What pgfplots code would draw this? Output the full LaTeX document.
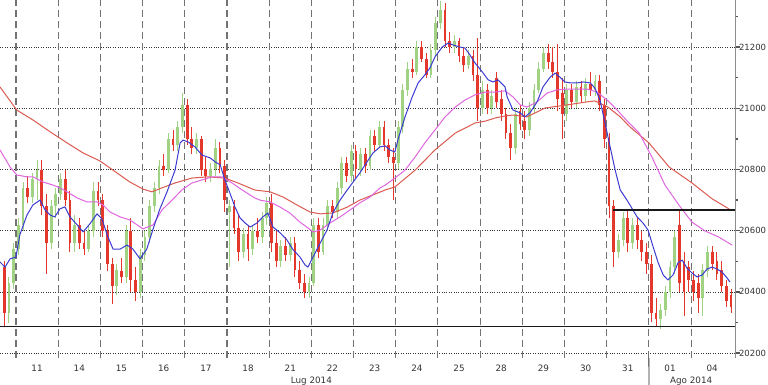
\documentclass[border=0pt]{standalone}
\usepackage{pgfplots}
\usepackage{pgfplotstable}
\pgfplotsset{compat=1.18}
\usepackage{fontspec}
\setmainfont{DejaVu Sans}
\definecolor{cup}{HTML}{9FD283}
\definecolor{cdown}{HTML}{E5382D}
\definecolor{cblue}{HTML}{3B3BD2}
\definecolor{cmag}{HTML}{E066E0}
\definecolor{cred}{HTML}{DA5A50}
\definecolor{cgrid}{HTML}{555555}

\pgfplotstableread{
x o h l c
-0.167 20330 20450 20300 20430
-0.056 20430 20560 20410 20540
0.056 20540 20640 20520 20620
0.167 20620 20760 20600 20740
0.389 20710 20790 20690 20770
0.500 20770 20830 20700 20800
0.833 20560 20700 20540 20680
0.944 20680 20740 20640 20720
1.056 20720 20790 20700 20770
1.389 20560 20650 20530 20620
1.722 20540 20620 20530 20600
1.833 20600 20760 20580 20730
2.389 20420 20490 20390 20470
2.611 20450 20620 20430 20600
2.944 20400 20540 20380 20520
3.056 20520 20600 20500 20580
3.167 20580 20700 20560 20680
3.278 20680 20760 20660 20740
3.389 20740 20830 20720 20810
3.611 20800 20920 20790 20900
3.833 20880 20960 20860 20940
3.944 20940 21050 20920 21010
4.278 20870 20920 20850 20900
4.611 20780 20820 20760 20800
4.722 20800 20900 20780 20870
5.056 20660 20700 20480 20680
5.389 20530 20610 20510 20590
5.611 20540 20620 20520 20600
5.833 20580 20660 20560 20640
5.944 20640 20710 20620 20690
6.278 20500 20570 20480 20550
6.500 20520 20580 20500 20560
6.944 20400 20450 20380 20430
7.056 20430 20640 20420 20620
7.278 20530 20640 20520 20620
7.389 20620 20700 20600 20680
7.611 20660 20760 20640 20740
7.722 20740 20840 20720 20820
7.944 20780 20880 20760 20860
8.167 20800 20870 20780 20850
8.389 20810 20930 20800 20910
8.611 20880 20960 20870 20940
9.056 20820 20960 20800 20940
9.167 20940 21080 20920 21060
9.278 21060 21150 21040 21130
9.500 21120 21220 21110 21200
9.833 21110 21210 21100 21190
9.944 21190 21300 21170 21280
10.056 21280 21350 21260 21320
10.389 21200 21240 21180 21220
10.722 21140 21190 21130 21170
11.056 21000 21090 20980 21060
11.278 21000 21060 20980 21040
11.833 20870 21000 20850 20980
12.167 20930 21020 20910 21000
12.278 21000 21080 20980 21060
12.389 21060 21150 21050 21130
12.500 21130 21200 21120 21180
13.056 20980 21080 20960 21060
13.278 21020 21090 21000 21070
13.500 21040 21100 21020 21080
13.722 21060 21110 21040 21090
14.278 20530 20590 20510 20570
14.389 20570 20660 20550 20640
14.611 20560 20640 20540 20620
15.278 20310 20360 20280 20340
15.389 20340 20420 20320 20400
15.500 20400 20500 20380 20480
15.611 20480 20600 20460 20580
16.278 20380 20490 20320 20470
16.389 20470 20550 20450 20530
}\updata

\pgfplotstableread{
x o h l c
-0.278 20480 20500 20290 20330
0.278 20740 20780 20690 20710
0.611 20800 20830 20650 20680
0.722 20680 20720 20460 20560
1.167 20770 20800 20680 20700
1.278 20700 20730 20530 20560
1.500 20620 20640 20540 20560
1.611 20560 20600 20520 20540
1.944 20730 20760 20680 20700
2.056 20700 20720 20580 20600
2.167 20600 20620 20470 20490
2.278 20490 20510 20360 20420
2.500 20470 20510 20430 20450
2.722 20600 20640 20400 20440
2.833 20440 20480 20370 20400
3.500 20810 20850 20780 20800
3.722 20900 20930 20860 20880
4.056 21010 21030 20880 20900
4.167 20900 20940 20850 20870
4.389 20900 20910 20780 20800
4.500 20800 20840 20760 20780
4.833 20870 20890 20790 20810
4.944 20810 20830 20660 20700
5.167 20680 20700 20590 20610
5.278 20610 20650 20500 20530
5.500 20590 20620 20500 20540
5.722 20600 20640 20560 20580
6.056 20690 20720 20530 20560
6.167 20560 20600 20480 20500
6.389 20550 20580 20500 20520
6.611 20560 20580 20450 20470
6.722 20470 20500 20410 20430
6.833 20430 20460 20380 20400
7.167 20620 20640 20510 20530
7.500 20680 20700 20640 20660
7.833 20820 20840 20760 20780
8.056 20860 20880 20770 20800
8.278 20850 20870 20790 20810
8.500 20910 20930 20860 20880
8.722 20940 20960 20860 20880
8.833 20880 20900 20820 20840
8.944 20840 20870 20700 20820
9.389 21130 21160 21100 21120
9.611 21200 21220 21150 21160
9.722 21160 21180 21100 21110
10.167 21320 21345 21200 21220
10.278 21220 21250 21180 21200
10.500 21220 21230 21150 21170
10.611 21170 21200 21120 21140
10.833 21170 21190 21090 21110
10.944 21110 21230 20960 21000
11.167 21060 21080 20980 21000
11.389 21100 21120 21000 21020
11.500 21030 21060 20960 20980
11.611 20980 21000 20900 20920
11.722 20920 20950 20830 20870
11.944 20990 21010 20930 20950
12.056 20960 20990 20900 20930
12.611 21180 21210 21130 21150
12.722 21150 21200 21100 21120
12.833 21120 21210 20990 21030
12.944 21050 21100 20900 20980
13.167 21060 21080 21000 21020
13.389 21070 21090 21020 21040
13.611 21080 21120 21040 21060
13.833 21090 21110 20990 21010
13.944 21010 21030 20870 20900
14.056 20900 20920 20640 20680
14.167 20680 20700 20480 20530
14.500 20640 20670 20530 20560
14.722 20620 20640 20540 20570
14.833 20570 20600 20500 20530
14.944 20530 20560 20460 20490
15.056 20490 20520 20300 20330
15.167 20330 20380 20290 20310
15.722 20620 20670 20400 20430
15.833 20500 20530 20320 20400
15.944 20480 20500 20400 20440
16.056 20440 20470 20370 20400
16.167 20430 20460 20330 20380
16.500 20530 20550 20470 20490
16.611 20500 20530 20440 20460
16.722 20470 20500 20400 20420
16.833 20420 20440 20350 20370
16.944 20390 20410 20330 20350
}\downdata

\begin{document}
\begin{tikzpicture}[x=1pt,y=1pt]
\useasboundingbox (0,-26) rectangle (768,358);
\begin{axis}[
  at={(0,0)}, anchor=south west,
  scale only axis, width=735pt, height=358pt,
  xmin=-0.379, xmax=17.04, ymin=20183.7, ymax=21353.6,
  axis line style={draw=none},
  font=\fontsize{8.8}{10}\selectfont,
  scaled y ticks=false,
  /pgf/number format/assume math mode=true,
  /pgf/number format/fixed,
  /pgf/number format/1000 sep={},
  ytick={20200,20400,...,21200},
  minor ytick={20300,20500,...,21300},
  ytick pos=right, yticklabel pos=right,
  tick align=outside,
  major tick length=5pt, minor tick length=3pt,
  ytick style={draw=cgrid, line width=1.3pt},
  minor tick style={draw=cgrid, line width=0.6pt},
  yticklabel style={text=black!80, anchor=west, xshift=-4.5pt, font=\fontsize{8.5}{10}\selectfont},
  xtick={0.5,1.5,...,16.5},
  xticklabels={11,14,15,16,17,18,21,22,23,24,25,28,29,30,31,01,04},
  xtick style={draw=none},
  xticklabel style={text=black!80, yshift=2pt},
  ymajorgrids,
  major grid style={draw=black!80, dotted, line width=0.7pt},
  clip=false,
]
\pgfplotsinvokeforeach{0,...,16}{
  \draw[black!55, line width=1.1pt, dash pattern=on 7pt off 4pt] (axis cs:#1,20183.7) -- (axis cs:#1,21353.6);
}
% wicks and bodies
\addplot[draw=none, mark=none, forget plot, error bars/.cd, y dir=both, y explicit, error mark=none,
  error bar style={draw=cup, line width=0.9pt, solid}]
  table[x=x, y expr={(\thisrow{h}+\thisrow{l})/2}, y error expr={(\thisrow{h}-\thisrow{l})/2}] {\updata};
\addplot[draw=none, mark=none, forget plot, error bars/.cd, y dir=both, y explicit, error mark=none,
  error bar style={draw=cup, line width=2.8pt, solid}]
  table[x=x, y expr={(\thisrow{o}+\thisrow{c})/2}, y error expr={abs(\thisrow{c}-\thisrow{o})/2}] {\updata};
\addplot[draw=none, mark=none, forget plot, error bars/.cd, y dir=both, y explicit, error mark=none,
  error bar style={draw=cdown, line width=0.9pt, solid}]
  table[x=x, y expr={(\thisrow{h}+\thisrow{l})/2}, y error expr={(\thisrow{h}-\thisrow{l})/2}] {\downdata};
\addplot[draw=none, mark=none, forget plot, error bars/.cd, y dir=both, y explicit, error mark=none,
  error bar style={draw=cdown, line width=2.8pt, solid}]
  table[x=x, y expr={(\thisrow{o}+\thisrow{c})/2}, y error expr={abs(\thisrow{c}-\thisrow{o})/2}] {\downdata};
% slow MA
\addplot[cred, line width=1pt, line join=round] coordinates {
(-0.38,21070) (0.02,20994) (0.40,20962) (0.81,20923) (1.21,20887) (1.59,20854) (1.99,20828) (2.39,20789) (2.70,20759) (3.01,20736) (3.22,20727) (3.46,20740) (3.77,20756) (4.17,20772) (4.55,20776) (4.95,20772) (5.26,20756) (5.66,20733) (6.02,20727) (6.33,20710) (6.66,20684) (6.97,20661) (7.21,20655) (7.51,20658) (7.85,20677) (8.15,20700) (8.46,20717) (8.75,20733) (8.98,20743) (9.46,20798) (9.93,20864) (10.41,20919) (10.88,20952) (11.12,20958) (11.35,20968) (11.59,20975) (11.78,20978) (12.11,20972) (12.54,21001) (13.06,21011) (13.53,21021) (13.72,21024) (14.03,21004) (14.32,20972) (14.55,20939) (15.00,20887) (15.48,20808) (16.02,20756) (16.50,20704) (16.90,20671)
};
% medium MA
\addplot[cmag, line width=1pt, line join=round] coordinates {
(-0.38,20864) (-0.14,20808) (0.02,20782) (0.26,20776) (0.40,20776) (0.64,20759) (0.88,20749) (1.04,20740) (1.21,20727) (1.45,20707) (1.68,20694) (1.92,20694) (2.06,20684) (2.23,20661) (2.47,20645) (2.70,20635) (3.01,20606) (3.25,20619) (3.46,20668) (3.70,20700) (3.93,20733) (4.17,20756) (4.41,20766) (4.65,20776) (4.88,20776) (5.12,20756) (5.36,20733) (5.66,20707) (5.78,20700) (6.02,20694) (6.26,20677) (6.49,20658) (6.73,20628) (6.92,20609) (7.04,20596) (7.21,20602) (7.44,20625) (7.68,20645) (7.92,20668) (8.15,20691) (8.39,20710) (8.63,20740) (8.75,20749) (8.98,20772) (9.22,20798) (9.46,20841) (9.69,20887) (9.93,20929) (10.17,20972) (10.41,21004) (10.64,21027) (10.88,21044) (11.12,21053) (11.35,21053) (11.59,21057) (11.78,21037) (11.95,21011) (12.11,21004) (12.35,21021) (12.59,21050) (12.82,21060) (13.06,21063) (13.30,21063) (13.53,21063) (13.77,21053) (14.01,21027) (14.25,20994) (14.48,20959) (14.77,20919) (15.07,20841) (15.38,20749) (15.71,20684) (16.02,20628) (16.33,20599) (16.66,20579) (16.97,20553)
};
% fast MA
\addplot[cblue, line width=1pt, line join=round] coordinates {
(-0.38,20498) (-0.26,20481) (-0.14,20508) (0.00,20514) (0.09,20586) (0.26,20651) (0.40,20684) (0.57,20700) (0.69,20668) (0.81,20651) (0.92,20645) (1.04,20671) (1.16,20678) (1.28,20645) (1.45,20619) (1.59,20596) (1.75,20622) (1.92,20655) (2.04,20638) (2.16,20586) (2.30,20540) (2.47,20540) (2.63,20553) (2.77,20540) (2.94,20508) (3.10,20540) (3.25,20606) (3.41,20671) (3.58,20727) (3.77,20798) (3.89,20887) (3.96,20896) (4.08,20890) (4.24,20874) (4.41,20847) (4.60,20838) (4.72,20825) (4.84,20815) (4.95,20766) (5.07,20723) (5.19,20677) (5.31,20642) (5.43,20625) (5.55,20612) (5.71,20625) (5.85,20645) (5.97,20658) (6.09,20612) (6.26,20593) (6.42,20570) (6.57,20537) (6.73,20514) (6.85,20488) (6.92,20481) (7.04,20514) (7.21,20560) (7.37,20602) (7.51,20658) (7.68,20700) (7.85,20733) (7.99,20759) (8.15,20789) (8.32,20825) (8.46,20854) (8.63,20874) (8.75,20877) (8.86,20864) (8.98,20857) (9.05,20896) (9.22,20972) (9.39,21037) (9.53,21083) (9.69,21109) (9.81,21132) (9.93,21168) (10.10,21200) (10.24,21213) (10.36,21207) (10.52,21200) (10.64,21197) (10.76,21174) (10.88,21148) (11.05,21119) (11.19,21093) (11.31,21086) (11.42,21093) (11.59,21070) (11.64,21037) (11.78,20994) (11.95,20985) (12.06,20972) (12.18,20985) (12.35,21021) (12.49,21070) (12.66,21102) (12.78,21115) (12.89,21102) (13.01,21086) (13.13,21083) (13.30,21083) (13.44,21086) (13.61,21083) (13.72,21066) (13.84,21027) (13.96,20952) (14.08,20874) (14.20,20798) (14.32,20733) (14.48,20700) (14.55,20684) (14.72,20645) (14.86,20625) (14.98,20602) (15.10,20547) (15.22,20495) (15.34,20455) (15.45,20439) (15.57,20455) (15.69,20495) (15.79,20504) (15.90,20478) (16.02,20462) (16.14,20449) (16.26,20455) (16.38,20475) (16.50,20481) (16.61,20475) (16.73,20465) (16.85,20446) (16.92,20432)
};
% support and resistance
\addplot[black!90, line width=1.8pt] coordinates {(-0.379,20287) (17.04,20287)};
\addplot[black!90, line width=1.8pt] coordinates {(14.15,20667) (17.04,20667)};
% right axis line and month marks
\draw[black!45, line width=0.6pt] (rel axis cs:1,0) -- (rel axis cs:1,1);
\draw[black!85, line width=0.9pt] (axis cs:15,20183.7) -- ++(0,-26pt);
\node[anchor=north, text=black!80, font=\fontsize{8.8}{10}\selectfont, yshift=-15pt] at (axis cs:7,20183.7) {Lug 2014};
\node[anchor=north, text=black!80, font=\fontsize{8.8}{10}\selectfont, yshift=-15pt] at (axis cs:16,20183.7) {Ago 2014};
\end{axis}
\end{tikzpicture}
\end{document}
